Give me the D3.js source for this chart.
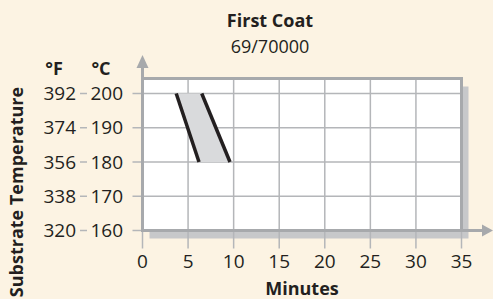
<!DOCTYPE html>
<html>
<head>
<meta charset="utf-8">
<script src="https://cdn.jsdelivr.net/npm/d3@7"></script>
<style>
  html, body { margin: 0; padding: 0; background: #fcf3e3; }
  svg { display: block; font-family: "Open Sans", sans-serif; }
</style>
</head>
<body>
<svg></svg>
<script>
const width = 493;
const height = 299;

const celsiusTicks = [160, 170, 180, 190, 200];
const fahrenheitTicks = [320, 338, 356, 374, 392];
const minuteTicks = [0, 5, 10, 15, 20, 25, 30, 35];
// coating window edges: [minutes, °C]
const windowStart = [[3.7, 200], [6.2, 180]];
const windowEnd = [[6.5, 200], [9.6, 180]];

const ink = "#231f20";
const frame = "#a7a9ac";
const grid = "#b4b6b9";
const shadow = "#c7c8ca";

const svg = d3.select("svg")
    .attr("width", width)
    .attr("height", height);

const x = d3.scaleLinear().domain([0, 35]).range([142.5, 461.5]);
const y = d3.scaleLinear().domain([160, 200]).range([230.5, 93.5]);
const boxTop = 78.5;

// shadow behind the plot box
svg.append("rect")
    .attr("x", x(0) + 7).attr("y", boxTop + 8)
    .attr("width", x(35) - x(0)).attr("height", y(160) - boxTop)
    .attr("fill", shadow);

svg.append("rect")
    .attr("x", x(0)).attr("y", boxTop)
    .attr("width", x(35) - x(0)).attr("height", y(160) - boxTop)
    .attr("fill", "#fff");

// horizontal grid + left stubs
svg.append("g").selectAll("line")
    .data(celsiusTicks)
    .join("line")
    .attr("x1", x(0) - 10).attr("x2", x(35))
    .attr("y1", d => y(d)).attr("y2", d => y(d))
    .attr("stroke", grid).attr("stroke-width", 1.5);

// vertical grid + bottom ticks
svg.append("g").selectAll("line")
    .data(minuteTicks)
    .join("line")
    .attr("x1", d => x(d)).attr("x2", d => x(d))
    .attr("y1", boxTop).attr("y2", y(160) + 18)
    .attr("stroke", grid).attr("stroke-width", 1.5);

// shaded window
const line = d3.line().x(d => x(d[0])).y(d => y(d[1]));
const area = [...windowStart, ...windowEnd.slice().reverse()];
svg.append("path")
    .attr("d", line(area) + "Z")
    .attr("fill", "#d9dadc");

[windowStart, windowEnd].forEach(s => {
    svg.append("path")
        .attr("d", line(s))
        .attr("fill", "none")
        .attr("stroke", ink)
        .attr("stroke-width", 3.5);
});

// frame
svg.append("rect")
    .attr("x", x(0)).attr("y", boxTop)
    .attr("width", x(35) - x(0)).attr("height", y(160) - boxTop)
    .attr("fill", "none")
    .attr("stroke", frame).attr("stroke-width", 3);

// axis arrows
svg.append("line")
    .attr("x1", x(0)).attr("x2", x(0))
    .attr("y1", boxTop).attr("y2", 66)
    .attr("stroke", frame).attr("stroke-width", 3);
svg.append("path")
    .attr("d", `M${x(0)},55 L${x(0) + 6},68 L${x(0) - 6},68 Z`)
    .attr("fill", frame);
svg.append("line")
    .attr("x1", x(35)).attr("x2", 485)
    .attr("y1", y(160)).attr("y2", y(160))
    .attr("stroke", frame).attr("stroke-width", 3);
svg.append("path")
    .attr("d", `M493,${y(160)} L482,${y(160) - 6} L482,${y(160) + 6} Z`)
    .attr("fill", frame);

// y labels
const yLabels = svg.append("g").attr("font-size", 19).attr("fill", ink);
yLabels.selectAll(".c")
    .data(celsiusTicks)
    .join("text")
    .attr("class", "c")
    .attr("x", 123).attr("y", d => y(d))
    .attr("dy", "0.35em")
    .attr("text-anchor", "end")
    .text(d => d);
yLabels.selectAll(".f")
    .data(fahrenheitTicks)
    .join("text")
    .attr("class", "f")
    .attr("x", 76).attr("y", (d, i) => y(celsiusTicks[i]))
    .attr("dy", "0.35em")
    .attr("text-anchor", "end")
    .text(d => d);
svg.append("g").selectAll("line")
    .data(celsiusTicks)
    .join("line")
    .attr("x1", 80).attr("x2", 87)
    .attr("y1", d => y(d)).attr("y2", d => y(d))
    .attr("stroke", grid).attr("stroke-width", 1.5);

svg.append("text").attr("x", 54).attr("y", 75)
    .attr("text-anchor", "middle").attr("font-size", 18).attr("font-weight", "bold")
    .attr("fill", ink).text("°F");
svg.append("text").attr("x", 101).attr("y", 75)
    .attr("text-anchor", "middle").attr("font-size", 18).attr("font-weight", "bold")
    .attr("fill", ink).text("°C");

// x labels
svg.append("g").selectAll("text")
    .data(minuteTicks)
    .join("text")
    .attr("x", d => x(d)).attr("y", 268)
    .attr("text-anchor", "middle")
    .attr("font-size", 19).attr("fill", ink)
    .text(d => d);

svg.append("text").attr("x", 302).attr("y", 295)
    .attr("text-anchor", "middle").attr("font-size", 18).attr("font-weight", "bold")
    .attr("fill", ink).text("Minutes");

svg.append("text")
    .attr("transform", "translate(23,192) rotate(-90)")
    .attr("text-anchor", "middle").attr("font-size", 18).attr("font-weight", "bold")
    .attr("fill", ink).text("Substrate Temperature");

svg.append("text").attr("x", 270).attr("y", 27)
    .attr("text-anchor", "middle").attr("font-size", 18).attr("font-weight", "bold")
    .attr("fill", ink).text("First Coat");
svg.append("text").attr("x", 270).attr("y", 53)
    .attr("text-anchor", "middle").attr("font-size", 18)
    .attr("fill", ink).text("69/70000");
</script>
</body>
</html>
